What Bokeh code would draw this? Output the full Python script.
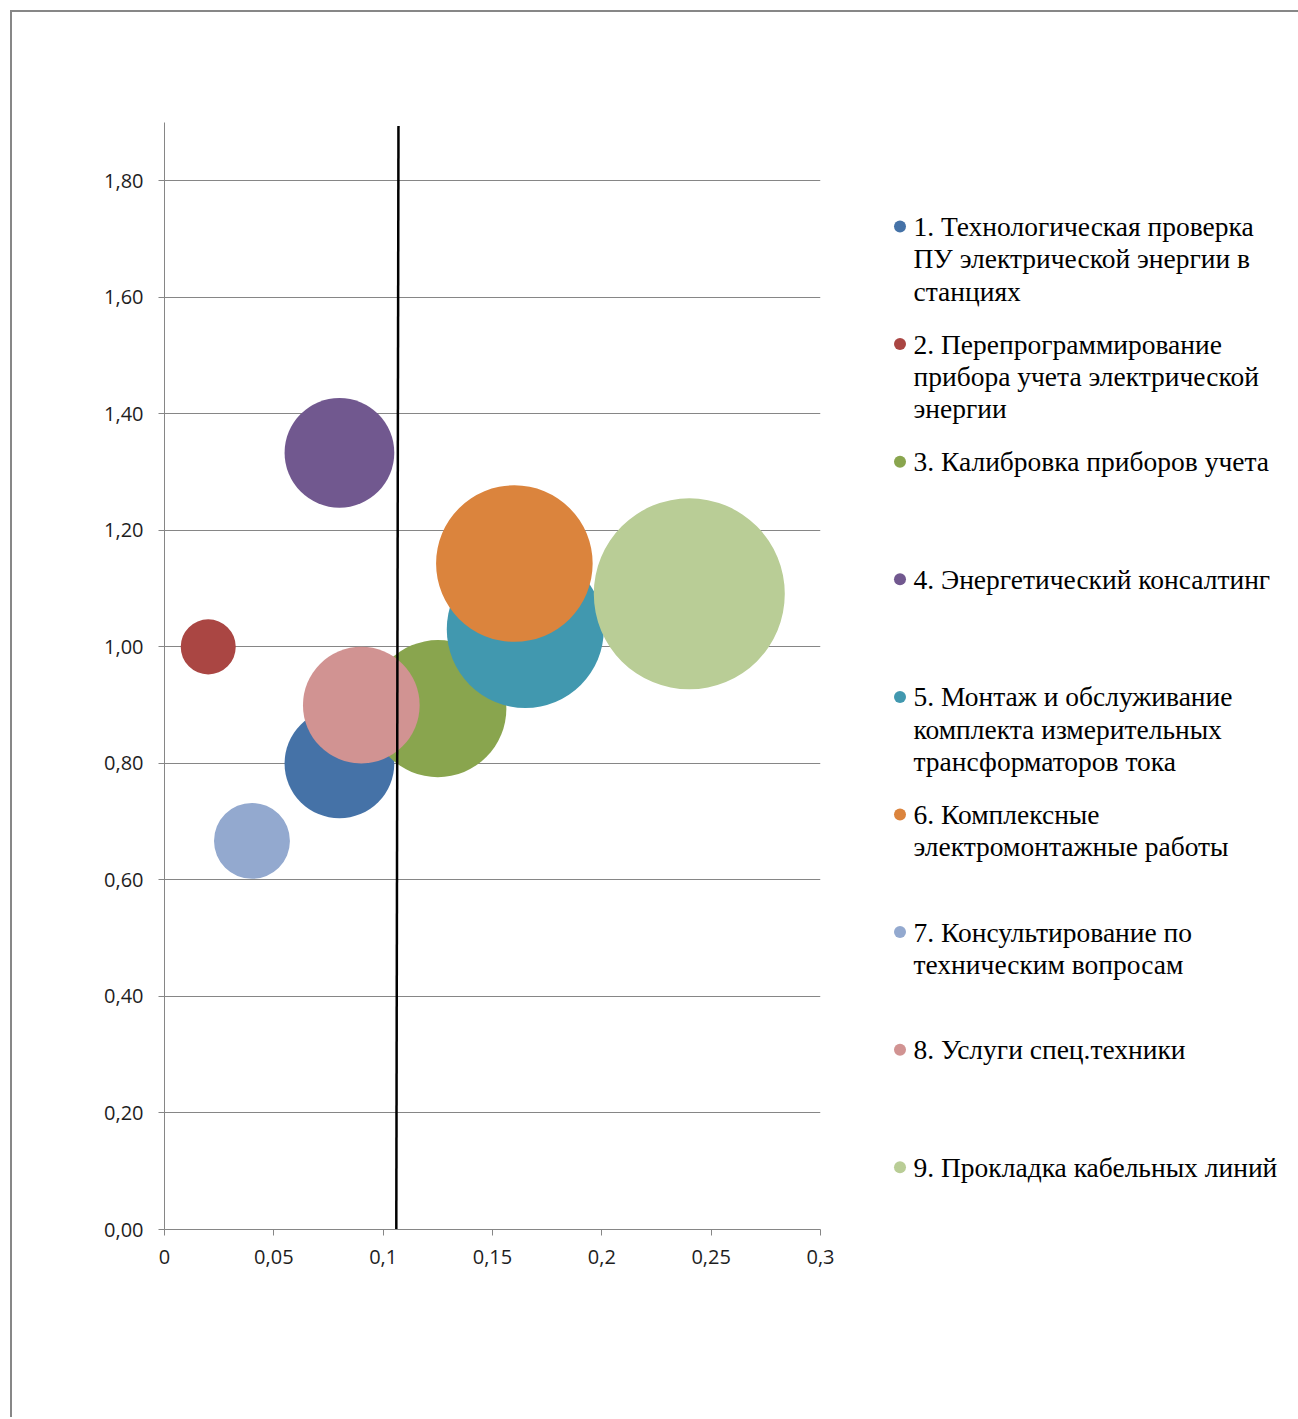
import math
from bokeh.plotting import figure
from bokeh.models import Range1d, FixedTicker, ColumnDataSource
from bokeh.layouts import row
from bokeh.core.properties import value
from bokeh.embed import file_html
from bokeh.resources import INLINE

# ---------------- data ----------------
services = [
    "1. Технологическая проверка\nПУ электрической энергии в\nстанциях",
    "2. Перепрограммирование\nприбора учета электрической\nэнергии",
    "3. Калибровка приборов учета",
    "4. Энергетический консалтинг",
    "5. Монтаж и обслуживание\nкомплекта измерительных\nтрансформаторов тока",
    "6. Комплексные\nэлектромонтажные работы",
    "7. Консультирование по\nтехническим вопросам",
    "8. Услуги спец.техники",
    "9. Прокладка кабельных линий",
]
share_x = [0.080, 0.020, 0.125, 0.080, 0.165, 0.160, 0.040, 0.090, 0.240]
index_y = [0.800, 1.000, 0.894, 1.333, 1.030, 1.143, 0.667, 0.900, 1.091]
bubble_size = [3.30, 0.83, 5.15, 3.30, 6.76, 6.72, 1.58, 3.73, 10.00]
colors = ["#4572A7", "#AA4643", "#89A54E", "#71588F", "#4198AF",
          "#DB843D", "#93A9CF", "#D19392", "#B9CD96"]

x_ticks = [0, 0.05, 0.1, 0.15, 0.2, 0.25, 0.3]
x_tick_labels = ["0", "0,05", "0,1", "0,15", "0,2", "0,25", "0,3"]
y_ticks = [0, 0.2, 0.4, 0.6, 0.8, 1.0, 1.2, 1.4, 1.6, 1.8]
y_tick_labels = ["0,00", "0,20", "0,40", "0,60", "0,80", "1,00",
                 "1,20", "1,40", "1,60", "1,80"]

divider_x = [0.107, 0.106]
divider_y = [1.894, 0.0]

# ---------------- layout constants ----------------
FIG_H = 1405
MAIN_W = 848
LEG_W = 438
BORDER_TOP = 110
BORDER_BOTTOM = 188
MAX_BUBBLE_DIAM = 191.0
GRID_COLOR = "#868686"
TICK_FONT = "Open Sans"
LEG_FONT = "Liberation Serif"

max_size = max(bubble_size)
diams = [MAX_BUBBLE_DIAM * math.sqrt(s / max_size) for s in bubble_size]

src = ColumnDataSource(dict(x=share_x, y=index_y, d=diams, c=colors))

p = figure(width=MAIN_W, height=FIG_H,
           x_range=Range1d(0, 0.3), y_range=Range1d(0, 1.9),
           toolbar_location=None, output_backend="svg",
           min_border_left=152, min_border_right=40,
           min_border_top=BORDER_TOP, min_border_bottom=BORDER_BOTTOM)
p.outline_line_color = None
p.background_fill_color = "white"
p.border_fill_color = "white"

p.scatter(x="x", y="y", size="d", fill_color="c", line_color=None,
          fill_alpha=1.0, source=src)
p.line(x=divider_x, y=divider_y, line_color="black", line_width=2.5)

# axes
p.xaxis.ticker = FixedTicker(ticks=x_ticks)
p.xaxis.major_label_overrides = {t: l for t, l in zip(x_ticks, x_tick_labels)}
p.yaxis.ticker = FixedTicker(ticks=y_ticks)
p.yaxis.major_label_overrides = {t: l for t, l in zip(y_ticks, y_tick_labels)}
for ax in (p.xaxis, p.yaxis):
    ax.axis_line_color = GRID_COLOR
    ax.axis_line_width = 1
    ax.major_tick_line_color = GRID_COLOR
    ax.major_tick_out = 6
    ax.major_tick_in = 0
    ax.minor_tick_line_color = None
    ax.major_label_text_font = TICK_FONT
    ax.major_label_text_font_size = "20px"
    ax.major_label_text_color = "#1e1e1e"
p.xaxis.major_label_standoff = 14
p.yaxis.major_label_standoff = 15

p.xgrid.visible = False
p.ygrid.ticker = FixedTicker(ticks=y_ticks)
p.ygrid.grid_line_color = GRID_COLOR
p.ygrid.grid_line_width = 1

# ---------------- legend figure ----------------
# y measured in pixels from the top of the figure (frames are aligned in a row)
leg = figure(width=LEG_W, height=FIG_H,
             x_range=Range1d(0, LEG_W),
             y_range=Range1d(FIG_H - BORDER_BOTTOM, BORDER_TOP),
             toolbar_location=None, output_backend="svg",
             x_axis_location=None, y_axis_location=None,
             min_border_left=0, min_border_right=0,
             min_border_top=BORDER_TOP, min_border_bottom=BORDER_BOTTOM)
leg.outline_line_color = None
leg.grid.visible = False
leg.background_fill_color = "white"
leg.border_fill_color = "white"

LEG_TOP = 214.0
LEG_STEP = 117.6
LINE_H = 32.3
MARK_X = 39.5
TEXT_X = 53.0

mx, my, tx, ty, tt = [], [], [], [], []
for i, lab in enumerate(services):
    y0 = LEG_TOP + i * LEG_STEP
    mx.append(MARK_X)
    my.append(y0)
    for j, line in enumerate(lab.split("\n")):
        tx.append(TEXT_X)
        ty.append(y0 + j * LINE_H)
        tt.append(line)

leg.scatter(x=mx, y=my, size=12, fill_color=colors, line_color=None)
leg.text(x=tx, y=ty, text=tt, text_font=value(LEG_FONT),
         text_font_size="27.5px", text_baseline="middle", text_align="left",
         text_color="black")

layout = row(p, leg, margin=(10, 0, 0, 10),
             styles={"border-left": "2px solid #878787",
                     "border-top": "2px solid #878787"})

open("out.html", "w").write(file_html(layout, INLINE))
